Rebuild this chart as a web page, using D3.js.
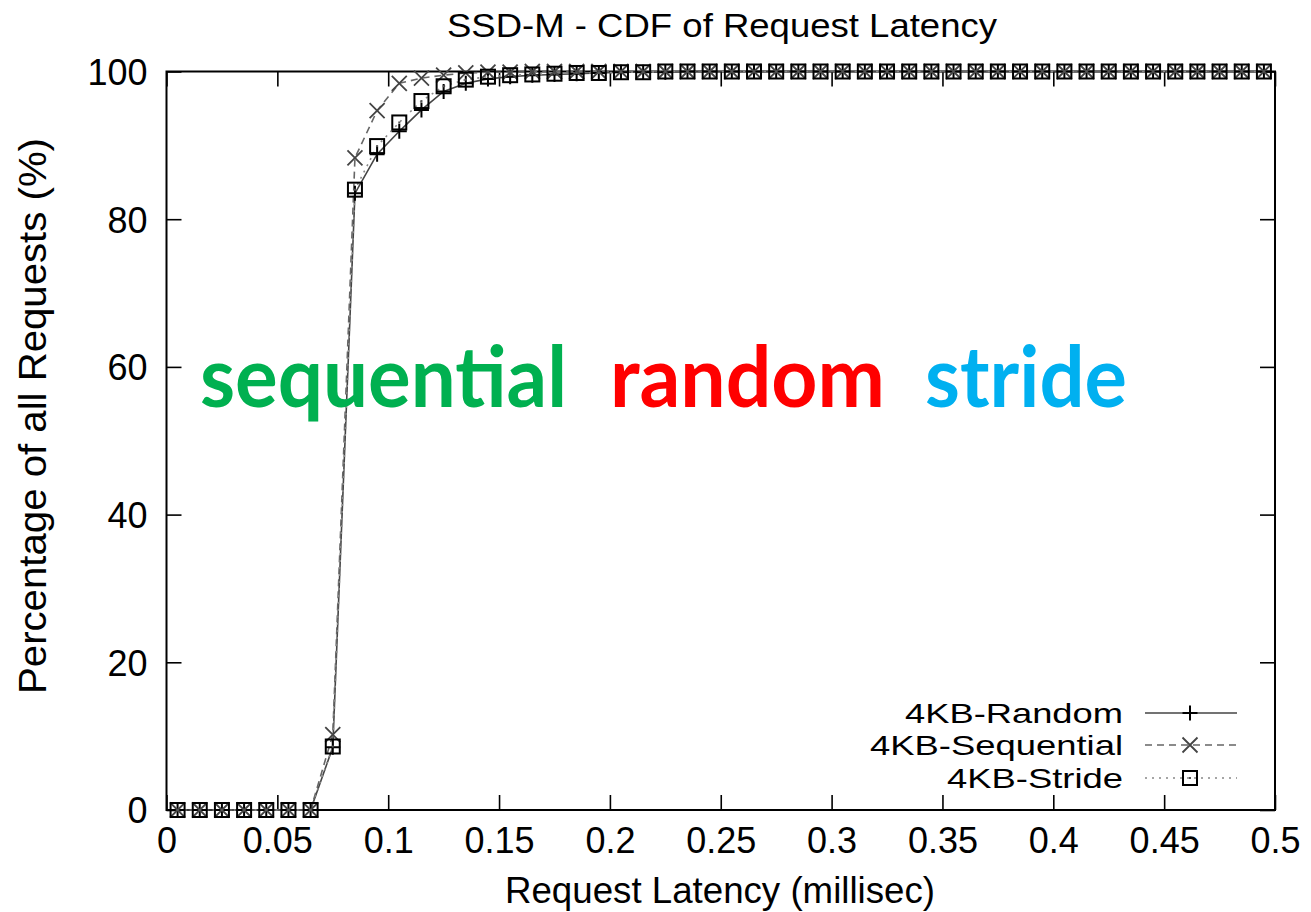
<!DOCTYPE html>
<html>
<head>
<meta charset="utf-8">
<script src="https://cdn.jsdelivr.net/npm/d3@7"></script>
<style>
  html, body { margin: 0; padding: 0; background: #fff; }
  svg { display: block; }
  text { font-family: "Liberation Sans", Arial, Helvetica, sans-serif; fill: #000; }
</style>
</head>
<body>
<svg id="chart" width="1311" height="912"></svg>
<script>
// ---- data ----
const latency = [0.005, 0.015, 0.025, 0.035, 0.045, 0.055, 0.065, 0.075, 0.085, 0.095,
  0.105, 0.115, 0.125, 0.135, 0.145, 0.155, 0.165, 0.175, 0.185, 0.195,
  0.205, 0.215, 0.225, 0.235, 0.245, 0.255, 0.265, 0.275, 0.285, 0.295,
  0.305, 0.315, 0.325, 0.335, 0.345, 0.355, 0.365, 0.375, 0.385, 0.395,
  0.405, 0.415, 0.425, 0.435, 0.445, 0.455, 0.465, 0.475, 0.485, 0.495];
const randomPct = [0, 0, 0, 0, 0, 0, 0, 8.5, 83.5, 88.8,
  91.9, 94.8, 97.3, 98.4, 99.0, 99.3, 99.5, 99.6, 99.7, 99.8,
  99.9, 99.9, 99.9, 100, 100, 100, 100, 100, 100, 100,
  100, 100, 100, 100, 100, 100, 100, 100, 100, 100,
  100, 100, 100, 100, 100, 100, 100, 100, 100, 100];
const sequentialPct = [0, 0, 0, 0, 0, 0, 0, 10.2, 88.3, 94.7,
  98.4, 99.1, 99.5, 99.8, 99.9, 99.9, 100, 100, 100, 100,
  100, 100, 100, 100, 100, 100, 100, 100, 100, 100,
  100, 100, 100, 100, 100, 100, 100, 100, 100, 100,
  100, 100, 100, 100, 100, 100, 100, 100, 100, 100];
const stridePct = [0, 0, 0, 0, 0, 0, 0, 8.6, 84.0, 89.9,
  93.1, 96.0, 98.0, 98.9, 99.3, 99.5, 99.6, 99.7, 99.8, 99.8,
  99.9, 99.9, 100, 100, 100, 100, 100, 100, 100, 100,
  100, 100, 100, 100, 100, 100, 100, 100, 100, 100,
  100, 100, 100, 100, 100, 100, 100, 100, 100, 100];
const xTicks = [0, 0.05, 0.1, 0.15, 0.2, 0.25, 0.3, 0.35, 0.4, 0.45, 0.5];
const xTickLabels = ["0", "0.05", "0.1", "0.15", "0.2", "0.25", "0.3", "0.35", "0.4", "0.45", "0.5"];
const yTicks = [0, 20, 40, 60, 80, 100];
const seriesNames = ["4KB-Random", "4KB-Sequential", "4KB-Stride"];
const overlayWords = ["sequential", "random", "stride"];
const overlayColors = ["#00B050", "#FF0000", "#00B0F0"];

// ---- layout ----
const svg = d3.select("#chart");
const L = 166.5, R = 1275, T = 71.5, B = 810;
const x = d3.scaleLinear().domain([0, 0.5]).range([L, R]);
const y = d3.scaleLinear().domain([0, 100]).range([B, T]);

// title
svg.append("text").attr("x", 722).attr("y", 37).attr("text-anchor", "middle")
  .attr("textLength", 550).attr("lengthAdjust", "spacingAndGlyphs")
  .style("font-size", "34px").text("SSD-M - CDF of Request Latency");

// axes (ticks inward, mirrored)
const tickLen = 15;
const fmt = d => xTickLabels[xTicks.indexOf(d)];
const axB = svg.append("g").attr("transform", `translate(0,${B})`)
  .call(d3.axisBottom(x).tickValues(xTicks).tickFormat(fmt).tickSizeInner(-tickLen).tickSizeOuter(0).tickPadding(24));
const axT = svg.append("g").attr("transform", `translate(0,${T})`)
  .call(d3.axisTop(x).tickValues(xTicks).tickFormat("").tickSizeInner(-tickLen).tickSizeOuter(0));
const axL = svg.append("g").attr("transform", `translate(${L},0)`)
  .call(d3.axisLeft(y).tickValues(yTicks).tickSizeInner(-tickLen).tickSizeOuter(0).tickPadding(20));
const axR = svg.append("g").attr("transform", `translate(${R},0)`)
  .call(d3.axisRight(y).tickValues(yTicks).tickFormat("").tickSizeInner(-tickLen).tickSizeOuter(0));
[axB, axT, axL, axR].forEach(a => {
  a.select(".domain").remove();
  a.selectAll(".tick line").attr("stroke", "#000").attr("stroke-width", 1.6);
  a.selectAll("text").style("font-size", "36px").attr("fill", "#000")
    .style("font-family", '"Liberation Sans", Arial, sans-serif');
});
axB.selectAll(".tick text").attr("dy", "0.71em").attr("y", 17);
axL.selectAll(".tick text").attr("x", -19).attr("dy", "0.36em");

// frame
svg.append("rect").attr("x", L).attr("y", T).attr("width", R - L).attr("height", B - T)
  .attr("fill", "none").attr("stroke", "#000").attr("stroke-width", 2);

// axis labels
svg.append("text").attr("x", 720).attr("y", 903).attr("text-anchor", "middle")
  .attr("textLength", 430).attr("lengthAdjust", "spacingAndGlyphs")
  .style("font-size", "36px").text("Request Latency (millisec)");
svg.append("text").attr("transform", "translate(46,416) rotate(-90)").attr("text-anchor", "middle")
  .attr("textLength", 556).attr("lengthAdjust", "spacingAndGlyphs")
  .style("font-size", "39px").text("Percentage of all Requests (%)");

// series
const series = [
  { name: seriesNames[0], vals: randomPct, dash: null, stroke: "#444", marker: "plus" },
  { name: seriesNames[1], vals: sequentialPct, dash: "7,5", stroke: "#666", marker: "cross" },
  { name: seriesNames[2], vals: stridePct, dash: "2,5", stroke: "#888", marker: "box" }
];

function drawMarker(g, type, cx, cy) {
  const s = 7.5;
  if (type === "plus") {
    g.append("path").attr("d", `M${cx - s},${cy}H${cx + s}M${cx},${cy - s}V${cy + s}`)
      .attr("stroke", "#000").attr("stroke-width", 2).attr("fill", "none");
  } else if (type === "cross") {
    g.append("path").attr("d", `M${cx - s},${cy - s}L${cx + s},${cy + s}M${cx - s},${cy + s}L${cx + s},${cy - s}`)
      .attr("stroke", "#444").attr("stroke-width", 1.8).attr("fill", "none");
  } else {
    g.append("rect").attr("x", cx - 7).attr("y", cy - 7).attr("width", 14).attr("height", 14)
      .attr("stroke", "#000").attr("stroke-width", 2).attr("fill", "none");
    g.append("rect").attr("x", cx - 1).attr("y", cy - 1).attr("width", 2).attr("height", 2).attr("fill", "#555");
  }
}

const line = d3.line().x(d => x(d[0])).y(d => y(d[1]));
const plot = svg.append("g");
series.forEach(s => {
  const pts = latency.map((lx, i) => [lx, s.vals[i]]);
  plot.append("path").datum(pts).attr("d", line).attr("fill", "none")
    .attr("stroke", s.stroke).attr("stroke-width", 1.6)
    .attr("stroke-dasharray", s.dash);
});
series.forEach(s => {
  const g = plot.append("g");
  latency.forEach((lx, i) => drawMarker(g, s.marker, x(lx), y(s.vals[i])));
});

// legend
const legY = [713, 745, 778];
const legW = [218, 253, 176];
const leg = svg.append("g");
series.forEach((s, i) => {
  leg.append("text").attr("x", 1123).attr("y", legY[i]).attr("dy", "0.36em")
    .attr("text-anchor", "end").attr("textLength", legW[i]).attr("lengthAdjust", "spacingAndGlyphs")
    .style("font-size", "28px").text(s.name);
  leg.append("line").attr("x1", 1145).attr("x2", 1237).attr("y1", legY[i]).attr("y2", legY[i])
    .attr("stroke", s.stroke).attr("stroke-width", 1.6).attr("stroke-dasharray", s.dash);
  drawMarker(leg, s.marker, 1190, legY[i]);
});

// overlay annotation words
const owX = [200, 610, 925];
const owW = [367, 275, 202];
overlayWords.forEach((w, i) => {
  svg.append("text").attr("x", owX[i]).attr("y", 407)
    .attr("textLength", owW[i]).attr("lengthAdjust", "spacingAndGlyphs")
    .style("font-family", "Lato, 'Open Sans', sans-serif").style("font-weight", "bold")
    .style("font-size", "84px").style("fill", overlayColors[i]).text(w);
});
</script>
</body>
</html>
